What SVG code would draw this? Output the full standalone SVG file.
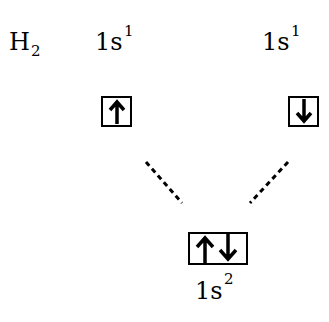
<svg xmlns="http://www.w3.org/2000/svg" width="329" height="322" viewBox="0 0 329 322">
<style>
text{font-family:'DejaVu Serif','Liberation Serif',serif;fill:#000}
.m{font-size:24px}
.s{font-size:15px}
.box{fill:none;stroke:#000;stroke-width:2}
.ar{fill:none;stroke:#000;stroke-width:3.5;stroke-linejoin:miter}
.dash{stroke:#000;stroke-width:3;stroke-dasharray:5 4;fill:none}
</style>
<rect width="329" height="322" fill="#fff"/>
<g id="labels">
<text class="m" x="9" y="50">H</text><text class="s" x="31" y="56">2</text>
<text class="m" x="95" y="50">1s</text><text class="s" x="124" y="36">1</text>
<text class="m" x="262" y="50">1s</text><text class="s" x="291" y="36">1</text>
</g>
<g id="orbital-left">
<rect class="box" x="102" y="97" width="29" height="29"/>
<path class="ar" d="M117 124V102M110 110L117 102L124 110"/>
</g>
<g id="orbital-right">
<rect class="box" x="289" y="97" width="29" height="29"/>
<path class="ar" d="M304 99V121M297 113L304 121L311 113"/>
</g>
<g id="orbital-bottom">
<rect class="box" x="189" y="233" width="58" height="31"/>
<path class="ar" d="M205 263V238M197 247L205 238L213 247"/>
<path class="ar" d="M228 234V259M220 250L228 259L236 250"/>
<text class="m" x="195" y="299">1s</text><text class="s" x="224" y="284">2</text>
</g>
<g id="connectors">
<line class="dash" x1="146" y1="162" x2="182" y2="203"/>
<line class="dash" x1="288" y1="162" x2="250" y2="203"/>
</g>
</svg>
